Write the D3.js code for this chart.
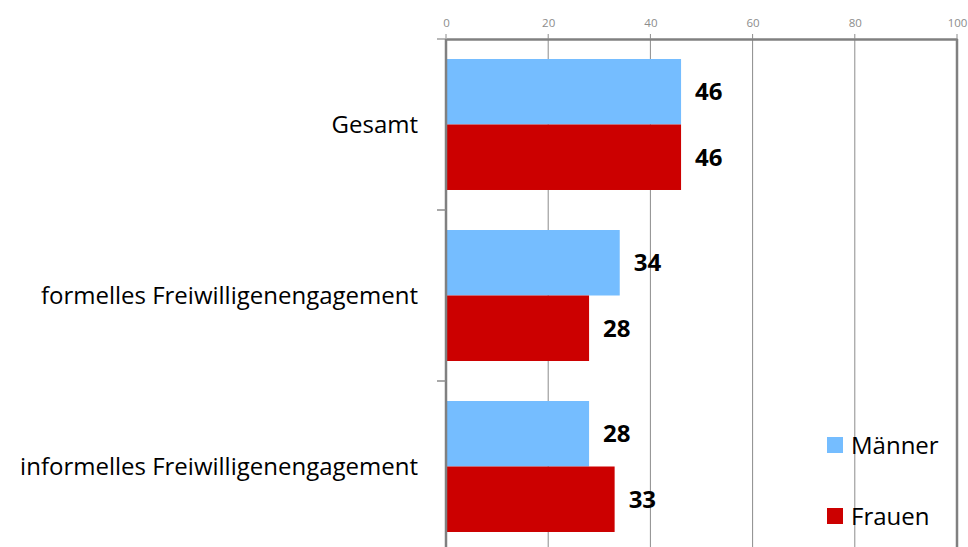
<!DOCTYPE html>
<html><head><meta charset="utf-8">
<script src="https://cdn.jsdelivr.net/npm/d3@7"></script>
<style>body{margin:0;background:#fff}svg{display:block}</style>
</head><body>
<svg id="c" width="968" height="547"></svg>
<script>
const categories = ["Gesamt", "formelles Freiwilligenengagement", "informelles Freiwilligenengagement"];
const seriesNames = ["Männer", "Frauen"];
const maenner = [46, 34, 28];
const frauen = [46, 28, 33];
const xTicks = [0, 20, 40, 60, 80, 100];
const colors = ["#75BDFF", "#CC0000"];

const svg = d3.select("#c");
const font = "'Open Sans', 'Liberation Sans', Arial, sans-serif";
const x = d3.scaleLinear().domain([0, 100]).range([446, 957]);
const y = d3.scaleBand().domain(categories).range([39, 552]).paddingInner(0.234).paddingOuter(0.117);
const ys = d3.scaleBand().domain(seriesNames).range([0, y.bandwidth()]);

// gridlines
svg.append("g").selectAll("line").data(xTicks.slice(1, -1)).join("line")
  .attr("x1", d => x(d)).attr("x2", d => x(d)).attr("y1", 39).attr("y2", 547)
  .attr("stroke", "#8c8c8c").attr("stroke-width", 1);

// bars
const data = categories.map((c, i) => ({c, vals: [maenner[i], frauen[i]]}));
const g = svg.append("g");
data.forEach(d => {
  d.vals.forEach((v, j) => {
    const yy = y(d.c) + ys(seriesNames[j]);
    g.append("rect").attr("x", x(0)).attr("y", yy)
      .attr("width", x(v) - x(0)).attr("height", ys.bandwidth())
      .attr("fill", colors[j]);
    g.append("text").attr("x", x(v) + 14).attr("y", yy + ys.bandwidth() / 2)
      .attr("dy", "0.36em").attr("font-family", font).attr("font-weight", "bold")
      .attr("font-size", 24).attr("fill", "#000").text(v);
  });
});

// top axis
const ax = svg.append("g").attr("transform", "translate(0,39)")
  .call(d3.axisTop(x).tickValues(xTicks).tickSize(0).tickPadding(12));
ax.select(".domain").attr("stroke", "#808080").attr("stroke-width", 2.5);
ax.selectAll("text").attr("font-family", font).attr("font-size", 11.5).attr("fill", "#8c8c8c");
// small tick marks on top axis
svg.append("g").selectAll("line").data(xTicks).join("line")
  .attr("x1", d => x(d)).attr("x2", d => x(d)).attr("y1", 34).attr("y2", 39)
  .attr("stroke", "#8c8c8c");
// left stub
svg.append("line").attr("x1", 437).attr("x2", 446).attr("y1", 39).attr("y2", 39)
  .attr("stroke", "#a0a0a0").attr("stroke-width", 1.5);

// left axis line
svg.append("line").attr("x1", x(0)).attr("x2", x(0)).attr("y1", 39).attr("y2", 547)
  .attr("stroke", "#808080").attr("stroke-width", 2.5);
// right axis line
svg.append("line").attr("x1", x(100)).attr("x2", x(100)).attr("y1", 39).attr("y2", 547)
  .attr("stroke", "#808080").attr("stroke-width", 2.5);

// category separators
const seps = categories.slice(1).map(c => y(c) - y.step() * y.paddingInner() / 2);
svg.append("g").selectAll("line").data(seps).join("line")
  .attr("x1", 437).attr("x2", 446).attr("y1", d => d).attr("y2", d => d)
  .attr("stroke", "#8c8c8c").attr("stroke-width", 1.5);

// category labels
svg.append("g").selectAll("text").data(categories).join("text")
  .attr("x", 418).attr("y", d => y(d) + y.bandwidth() / 2).attr("dy", "0.36em")
  .attr("text-anchor", "end").attr("font-family", font).attr("font-size", 24)
  .attr("fill", "#000").text(d => d);

// legend
const lg = svg.append("g");
const legY = [445, 516];
seriesNames.forEach((s, j) => {
  lg.append("rect").attr("x", 827).attr("y", legY[j] - 8).attr("width", 16).attr("height", 16).attr("fill", colors[j]);
  lg.append("text").attr("x", 851).attr("y", legY[j]).attr("dy", "0.36em")
    .attr("font-family", font).attr("font-size", 24).attr("fill", "#000").text(s);
});
</script>
</body></html>
